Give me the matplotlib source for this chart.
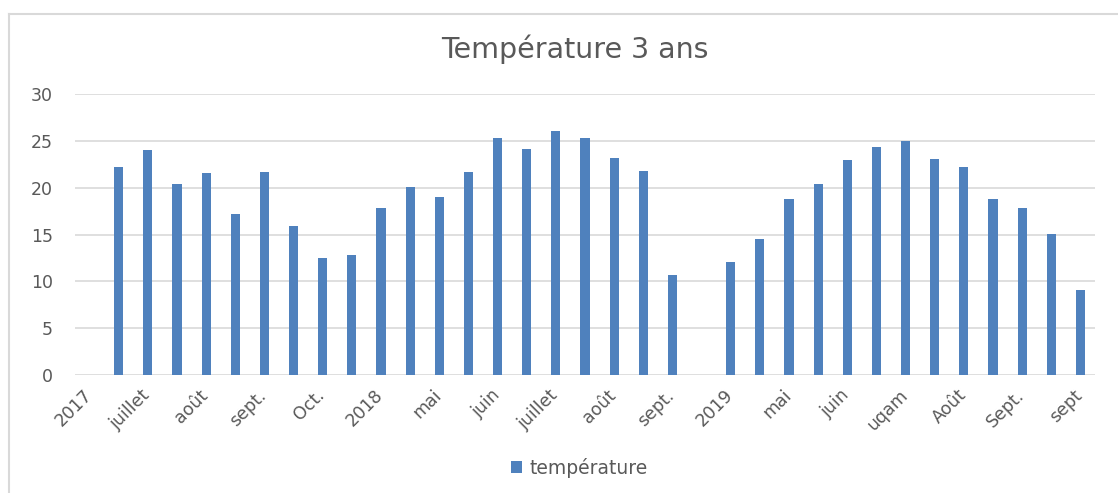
import numpy as np
import matplotlib.pyplot as plt
import matplotlib.transforms as mtransforms
from matplotlib.lines import Line2D

# monthly temperatures, one slot per month (nan = no data)
temperature = [
    np.nan, 22.2, 24.0, 20.4, 21.6, 17.2, 21.7, 15.9, 12.5, 12.8,
    17.8, 20.1, 19.0, 21.7, 25.3, 24.1, 26.0, 25.3, 23.2, 21.8,
    10.7, np.nan, 12.1, 14.5, 18.8, 20.4, 23.0, 24.3, 25.0, 23.1,
    22.2, 18.8, 17.8, 15.1, 9.05,
]
# labels shown on every second slot
tick_labels = [
    "2017", "juillet", "août", "sept.", "Oct.", "2018", "mai", "juin",
    "juillet", "août", "sept.", "2019", "mai", "juin", "uqam", "Août",
    "Sept.", "sept",
]

plt.rcParams["font.family"] = ["DejaVu Sans"]
text_color = "#595959"
grid_color = "#d9d9d9"
bar_color = "#4f81bd"

W, H = 1118, 493
fig = plt.figure(figsize=(W / 100, H / 100), dpi=100)
ax = fig.add_axes([75 / W, 1 - 375 / H, (1095 - 75) / W, (375 - 94) / H])

x = np.arange(len(temperature))
ax.bar(x, temperature, width=0.31, color=bar_color, label="température", zorder=3)

ax.set_xlim(-0.5, len(temperature) - 0.5)
ax.set_ylim(0, 30)
ax.set_yticks(np.arange(0, 31, 5))
ax.set_xticks(x[::2])
ax.set_xticklabels(tick_labels, rotation=45, ha="right", rotation_mode="anchor")

ax.grid(axis="y", color=grid_color, linewidth=1.2, zorder=0)
for side in ["top", "right", "left", "bottom"]:
    ax.spines[side].set_visible(False)
ax.tick_params(axis="both", length=0, labelsize=12.5, colors=text_color)
ax.tick_params(axis="y", pad=16)
ax.tick_params(axis="x", pad=8)

# nudge rotated labels a little to the left
shift = mtransforms.ScaledTranslation(-7 / 100, 0, fig.dpi_scale_trans)
for lbl in ax.get_xticklabels():
    lbl.set_transform(lbl.get_transform() + shift)

fig.text(575 / W, 1 - 49 / H, "Température 3 ans", ha="center", va="center",
         fontsize=20.5, color=text_color)

fig.legend(loc="center", bbox_to_anchor=(0.518, 1 - 468 / H), frameon=False,
           fontsize=13.5, labelcolor=text_color, handlelength=0.6,
           handleheight=0.6, handletextpad=0.4)

# chart frame (left and top edges visible)
fig.add_artist(Line2D([9 / W, 9 / W], [0, 1 - 14 / H], transform=fig.transFigure,
                      color=grid_color, linewidth=1.5))
fig.add_artist(Line2D([9 / W, 1], [1 - 14 / H, 1 - 14 / H], transform=fig.transFigure,
                      color=grid_color, linewidth=1.5))

fig.savefig("out.png", dpi=100)
